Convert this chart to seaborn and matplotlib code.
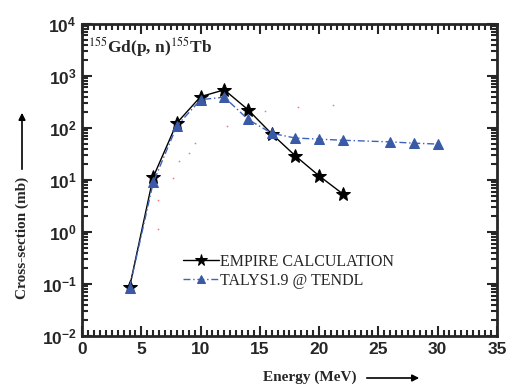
import numpy as np
import seaborn as sns
import matplotlib.pyplot as plt
from matplotlib.ticker import MultipleLocator, LogLocator, FixedLocator, NullFormatter

# data
energy_empire = [4, 6, 8, 10, 12, 14, 16, 18, 20, 22]
xs_empire = [0.087, 11.4, 125, 400, 540, 224, 77, 29, 12, 5.4]

energy_talys = [4, 6, 8, 10, 12, 14, 16, 18, 20, 22, 26, 28, 30]
xs_talys = [0.085, 9, 110, 350, 390, 146, 79, 64, 61, 58, 54, 51, 49]

energy_red = [6.4, 6.4, 7.7, 8.2, 9.0, 9.5, 12.2, 15.4, 18.2, 21.2]
xs_red = [1.15, 4.2, 11, 23, 33, 51, 109, 213, 253, 277]

ytick_vals = [1e-2, 1e-1, 1e0, 1e1, 1e2, 1e3, 1e4]
ytick_labels = ['$\\mathbf{10^{-2}}$', '$\\mathbf{10^{-1}}$', '$\\mathbf{10^{0}}$', '$\\mathbf{10^{1}}$',
                '$\\mathbf{10^{2}}$', '$\\mathbf{10^{3}}$', '$\\mathbf{10^{4}}$']

sns.set_style('ticks')
plt.rcParams['font.family'] = ['Liberation Sans', 'DejaVu Sans']
plt.rcParams['mathtext.fontset'] = 'custom'
plt.rcParams['mathtext.bf'] = 'Liberation Sans:bold'
plt.rcParams['mathtext.rm'] = 'Liberation Sans'

fig = plt.figure(figsize=(5.07, 3.85), dpi=100)
ax = fig.add_axes([0.162, 0.127, 0.818, 0.811])

sns.scatterplot(x=energy_red, y=xs_red, ax=ax, color='#ff7070', s=1.5, linewidth=0, legend=False)
sns.lineplot(x=energy_empire, y=xs_empire, ax=ax, color='black', lw=1.0, marker='*',
             markersize=10, markeredgecolor='black', label='EMPIRE CALCULATION')
sns.lineplot(x=energy_talys, y=xs_talys, ax=ax, color='#3f63b8', lw=1.0, linestyle=(0, (5, 2, 1, 2)),
             marker='^', markersize=7.5, markerfacecolor='#3a5aa8', markeredgecolor='#3a5aa8',
             label='TALYS1.9 @ TENDL')

ax.set_yscale('log')
ax.set_xlim(0, 35)
ax.set_ylim(1e-2, 1e4)
ax.xaxis.set_major_locator(MultipleLocator(5))
ax.xaxis.set_minor_locator(MultipleLocator(0.5))
ax.yaxis.set_major_locator(FixedLocator(ytick_vals))
ax.set_yticklabels(ytick_labels)
ax.yaxis.set_minor_locator(LogLocator(base=10, subs=np.arange(2, 10)))
ax.yaxis.set_minor_formatter(NullFormatter())
ax.tick_params(which='both', direction='in', top=True, right=True, width=1.5)
ax.tick_params(which='major', length=7, labelsize=12.5, pad=4)
ax.tick_params(which='minor', length=4)
for lab in ax.get_xticklabels():
    lab.set_fontweight('bold')
    lab.set_fontsize(12.5)
for sp in ax.spines.values():
    sp.set_linewidth(2)
    sp.set_visible(True)

ax.set_xlabel('')
ax.set_ylabel('')

serif = ['Liberation Serif', 'DejaVu Serif']
ax.text(0.015, 0.925, '$^{155}$Gd(p, n)$^{155}$Tb', transform=ax.transAxes, family=serif,
        fontsize=12.5, fontweight='bold', va='center', ha='left',
        math_fontfamily='stix')

leg = ax.legend(loc='upper left', bbox_to_anchor=(0.225, 0.29), frameon=False,
                prop={'family': serif, 'size': 11.5}, handlelength=2.2, handletextpad=0.1,
                labelspacing=0.2, borderpad=0, markerscale=0.85)

fig.text(22 / 507, 1 - 238 / 385, 'Cross-section (mb)', rotation=90, family=serif,
         fontweight='bold', fontsize=11, ha='center', va='center')
ax.annotate('', xy=(22 / 507, 1 - 110 / 385), xytext=(22 / 507, 1 - 172 / 385),
            xycoords='figure fraction', textcoords='figure fraction',
            arrowprops=dict(arrowstyle='-|>', color='black', lw=1.2, mutation_scale=10))
fig.text(310 / 507, 1 - 384 / 385, 'Energy (MeV)', family=serif, fontweight='bold',
         fontsize=11, ha='center', va='bottom')
ax.annotate('', xy=(422 / 507, 1 - 378 / 385), xytext=(364 / 507, 1 - 378 / 385),
            xycoords='figure fraction', textcoords='figure fraction',
            arrowprops=dict(arrowstyle='-|>', color='black', lw=1.2, mutation_scale=10))

fig.savefig('out.png', dpi=100)
